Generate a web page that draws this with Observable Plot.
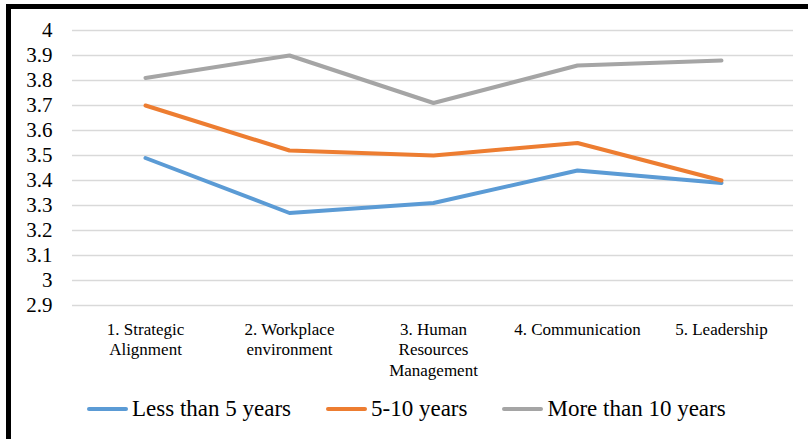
<!DOCTYPE html>
<html>
<head>
<meta charset="utf-8">
<script src="https://cdn.jsdelivr.net/npm/d3@7"></script>
<script src="https://cdn.jsdelivr.net/npm/@observablehq/plot@0.6"></script>
</head>
<body style="margin:0;padding:0;background:#fff">
<div id="page" style="position:relative;width:808px;height:439px;overflow:hidden">
  <div id="fig" style="position:absolute;left:0;top:0"></div>
  <div style="position:absolute;background:#000;left:6px;top:4px;width:802px;height:5px"></div>
  <div style="position:absolute;background:#000;left:6px;top:4px;width:5px;height:435px"></div>
  <div id="key" style="position:absolute;left:87px;top:396px;display:flex;align-items:center;color:#000;white-space:nowrap;font-size:23px"></div>
</div>
<script>
// Mean scores per dimension, grouped by years of experience
const categories = [
  "1. Strategic\nAlignment",
  "2. Workplace\nenvironment",
  "3. Human\nResources\nManagement",
  "4. Communication",
  "5. Leadership"
];
const seriesNames = ["Less than 5 years", "5-10 years", "More than 10 years"];
const lessThan5 = [3.49, 3.27, 3.31, 3.44, 3.39];
const from5to10 = [3.70, 3.52, 3.50, 3.55, 3.40];
const moreThan10 = [3.81, 3.90, 3.71, 3.86, 3.88];
const yTicks = [2.9, 3, 3.1, 3.2, 3.3, 3.4, 3.5, 3.6, 3.7, 3.8, 3.9, 4];
const colors = ["#5B9BD5", "#ED7D31", "#A5A5A5"];

const seriesValues = [lessThan5, from5to10, moreThan10];
const rows = seriesValues.flatMap((vals, s) =>
  vals.map((v, i) => ({ category: categories[i], series: seriesNames[s], value: v }))
);

const serif = "'Times New Roman', 'Liberation Serif', serif";
const useSerif = el => el.style.setProperty("font-family", serif, "important");

const svg = Plot.plot({
  width: 808,
  height: 385,
  marginTop: 30,
  marginBottom: 80,
  marginLeft: 72,
  marginRight: 15,
  style: { color: "#000", background: "transparent" },
  x: { type: "point", domain: categories, padding: 0.5 },
  y: { domain: [2.9, 4] },
  color: { domain: seriesNames, range: colors },
  marks: [
    Plot.gridY(yTicks, { stroke: "#D9D9D9", strokeOpacity: 1, strokeWidth: 1.4 }),
    Plot.axisY(yTicks, {
      tickSize: 0, tickPadding: 20, fontSize: 21, label: null, fill: "#000",
      tickFormat: d => `${+d.toFixed(1)}`
    }),
    Plot.axisX({
      tickSize: 0, tickPadding: 15, fontSize: 17, lineHeight: 1.2, label: null, fill: "#000"
    }),
    Plot.lineY(rows, {
      x: "category", y: "value", z: "series", stroke: "series",
      strokeWidth: 4, strokeLinecap: "round", strokeLinejoin: "round"
    })
  ]
});
useSerif(svg);
svg.querySelectorAll("g, text, tspan").forEach(useSerif);
document.getElementById("fig").appendChild(svg);

// Legend below the plot
const key = document.getElementById("key");
useSerif(key);
seriesNames.forEach((name, i) => {
  const item = document.createElement("div");
  item.style.cssText = "display:flex;align-items:center;margin-right:35px";
  const sw = document.createElement("span");
  sw.style.cssText = `display:inline-block;width:41px;height:4px;border-radius:2px;margin-right:4px;background:${colors[i]}`;
  const label = document.createElement("span");
  label.textContent = name;
  useSerif(label);
  item.append(sw, label);
  key.appendChild(item);
});
</script>
</body>
</html>
